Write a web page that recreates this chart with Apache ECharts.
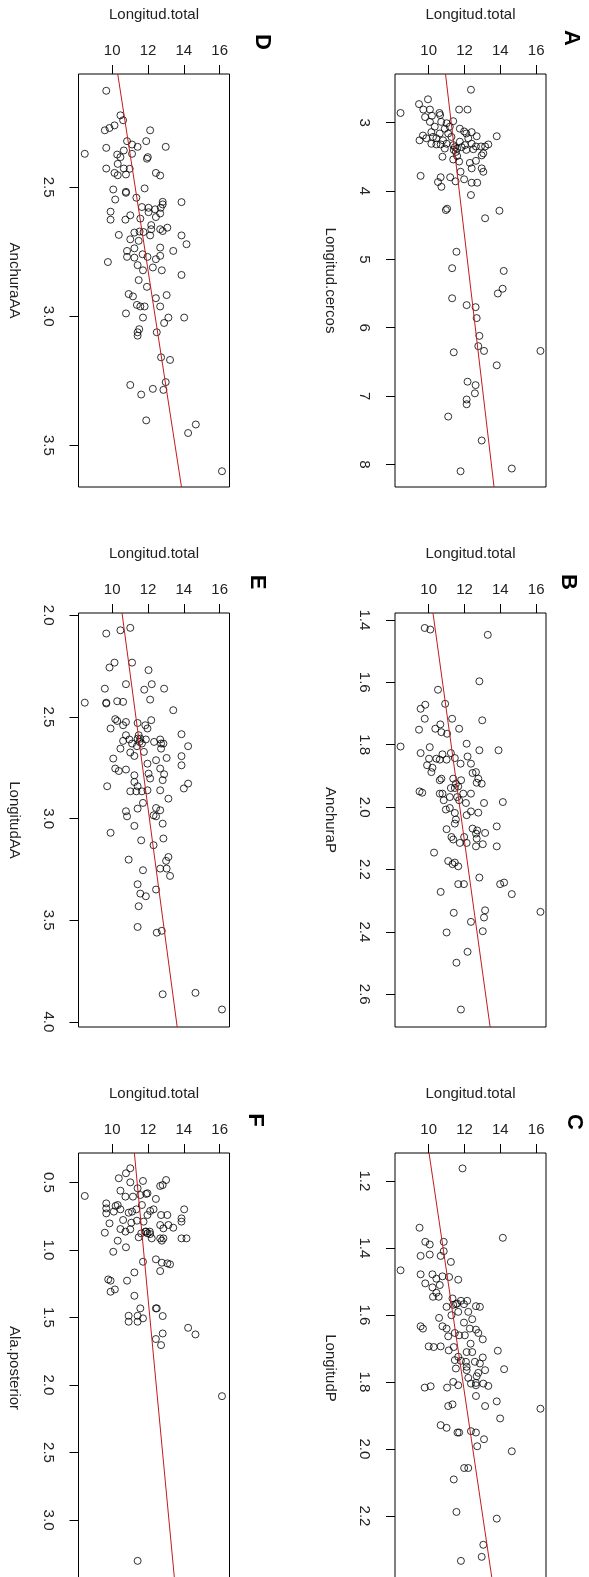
<!DOCTYPE html>
<html>
<head>
<meta charset="utf-8">
<script src="https://cdn.jsdelivr.net/npm/echarts@6/dist/echarts.min.js"></script>
<style>
  html, body { margin: 0; padding: 0; background: #fff; }
  #chart { width: 589px; height: 1577px; }
</style>
</head>
<body>
<div id="chart"></div>
<script>
// shared horizontal axis (Longitud.total)
const totalName = 'Longitud.total';
const totalTicks = [10, 12, 14, 16];
const totalRange = [8.12, 16.55];

// A: Longitud.cercos  -> [Longitud.total, Longitud.cercos]
const ptsA = [
  [12.36,2.52],[9.96,2.66],[9.46,2.73],[8.43,2.86],[9.7,2.81],[10.07,2.81],[11.7,2.81],[12.17,2.81],
  [9.8,2.92],[10.18,2.90],[10.6,2.86],[10.64,2.89],[11.37,2.98],[11.0,3.01],[10.07,2.99],[10.7,2.99],
  [11.18,3.06],[11.74,3.09],[11.98,3.13],[12.1,3.16],[12.4,3.14],[12.68,3.20],[13.8,3.20],[9.68,3.19],
  [9.49,3.26],[9.87,3.23],[10.15,3.14],[10.24,3.21],[10.43,3.23],[10.62,3.16],[10.8,3.26],[11.09,3.16],
  [11.27,3.21],[10.15,3.31],[10.67,3.32],[11.0,3.31],[11.46,3.36],[11.59,3.38],[11.4,3.40],[11.74,3.28],
  [12.02,3.33],[12.1,3.40],[12.64,3.35],[12.92,3.35],[13.15,3.35],[13.33,3.32],[13.05,3.45],[12.96,3.48],
  [10.77,3.50],[11.37,3.54],[11.7,3.57],[12.3,3.59],[12.64,3.56],[12.4,3.67],[12.96,3.67],[13.05,3.72],
  [11.78,3.72],[9.55,3.78],[10.67,3.80],[11.2,3.80],[11.5,3.86],[11.98,3.83],[10.52,3.87],[10.71,3.94],
  [12.4,3.88],[12.71,3.88],[12.36,4.06],[10.96,4.28],[11.03,4.26],[13.95,4.29],[13.15,4.40],[11.55,4.89],
  [11.31,5.13],[14.19,5.17],[14.13,5.43],[13.86,5.50],[11.31,5.57],[12.12,5.67],[12.62,5.70],[12.68,5.86],
  [12.83,6.12],[12.77,6.27],[13.09,6.34],[11.4,6.36],[16.24,6.34],[13.8,6.55],[12.17,6.79],[12.62,6.84],
  [12.58,6.96],[12.12,7.05],[12.12,7.12],[11.09,7.30],[12.96,7.65],[11.78,8.10],[14.64,8.06],
  [11.37,3.33],[11.52,3.43],[11.59,3.49],[10.43,3.32],[10.9,3.38],[11.84,3.36],[12.4,3.31],[12.49,3.39],
  [12.21,3.23],[10.9,3.09],[10.34,3.06]
];
const lineA = [[10.94, 2.29], [13.65, 8.33]];
const rangeA = [2.29, 8.33];
const ticksA = [3, 4, 5, 6, 7, 8];

// B: AnchuraP
const ptsB = [
  [9.78,1.426],[10.09,1.431],[13.3,1.448],[12.83,1.597],[10.52,1.624],[10.92,1.669],[9.81,1.672],[9.55,1.685],
  [9.78,1.717],[11.31,1.717],[12.99,1.722],[10.65,1.735],[10.37,1.749],[11.7,1.749],[9.46,1.752],[10.71,1.76],
  [11.03,1.765],[8.43,1.806],[12.12,1.797],[9.55,1.827],[10.06,1.808],[12.83,1.818],[13.9,1.818],[11.24,1.827],
  [10.77,1.831],[10.02,1.845],[10.43,1.845],[10.62,1.848],[11.0,1.848],[11.46,1.843],[12.17,1.838],[11.78,1.861],
  [12.36,1.861],[9.91,1.866],[10.21,1.874],[10.15,1.888],[12.45,1.891],[12.64,1.888],[12.77,1.909],[10.71,1.909],
  [10.62,1.914],[11.37,1.909],[11.81,1.914],[12.68,1.922],[12.96,1.925],[11.65,1.934],[11.24,1.939],[11.46,1.939],
  [9.49,1.95],[9.64,1.954],[10.62,1.957],[10.77,1.957],[11.59,1.968],[11.93,1.957],[12.36,1.957],[11.18,1.968],
  [10.84,1.978],[11.7,1.978],[12.08,1.987],[13.09,1.987],[14.14,1.984],[10.96,2.008],[11.18,2.003],[11.46,2.019],
  [12.12,2.026],[12.36,2.014],[12.77,2.018],[11.52,2.04],[11.46,2.053],[13.8,2.062],[11.0,2.071],[12.45,2.069],
  [12.71,2.075],[12.64,2.085],[13.15,2.083],[11.27,2.096],[11.37,2.104],[11.98,2.096],[12.68,2.101],[11.74,2.115],
  [12.12,2.115],[13.02,2.119],[12.64,2.126],[13.8,2.126],[10.3,2.146],[11.09,2.173],[11.46,2.178],[11.33,2.183],
  [11.65,2.19],[12.83,2.226],[11.65,2.247],[11.97,2.247],[10.67,2.272],[13.99,2.247],[14.21,2.242],[14.64,2.279],
  [13.15,2.331],[13.09,2.354],[11.4,2.339],[12.36,2.368],[16.24,2.336],[11.0,2.402],[13.02,2.398],[12.17,2.464],
  [11.55,2.499],[11.8,2.649],[11.52,1.925]
];
const lineB = [[10.24, 1.378], [13.43, 2.705]];
const rangeB = [1.378, 2.705];
const ticksB = [1.4, 1.6, 1.8, 2.0, 2.2, 2.4, 2.6];

// C: LongitudP
const ptsC = [
  [11.89,1.163],[9.49,1.34],[14.14,1.37],[9.81,1.382],[10.06,1.39],[10.84,1.382],[10.84,1.41],[9.55,1.424],
  [10.06,1.42],[10.67,1.424],[11.24,1.442],[8.43,1.467],[9.55,1.479],[10.21,1.479],[10.43,1.492],[10.77,1.485],
  [11.14,1.487],[11.65,1.495],[9.81,1.506],[10.21,1.518],[10.62,1.511],[10.43,1.534],[10.24,1.546],[10.56,1.546],
  [11.33,1.551],[11.8,1.558],[12.15,1.558],[11.52,1.568],[11.0,1.576],[11.97,1.568],[12.64,1.574],[12.86,1.576],
  [11.65,1.591],[11.27,1.601],[12.21,1.591],[10.58,1.609],[11.97,1.623],[12.43,1.613],[9.55,1.634],[9.68,1.641],
  [10.77,1.634],[11.0,1.641],[11.09,1.664],[11.46,1.654],[11.7,1.661],[12.02,1.661],[12.3,1.641],[12.64,1.644],
  [12.77,1.654],[13.02,1.673],[10.0,1.694],[10.28,1.696],[10.67,1.694],[11.12,1.706],[11.4,1.696],[12.34,1.686],
  [12.12,1.711],[12.43,1.711],[13.86,1.707],[11.65,1.725],[11.46,1.735],[11.8,1.737],[12.08,1.74],[12.58,1.74],
  [13.02,1.727],[12.86,1.745],[11.52,1.76],[12.12,1.755],[12.12,1.765],[13.15,1.765],[14.21,1.762],[12.77,1.773],
  [12.68,1.783],[12.21,1.788],[11.37,1.8],[11.65,1.81],[12.36,1.805],[12.64,1.803],[13.05,1.805],[13.33,1.812],
  [12.64,1.81],[9.78,1.817],[10.11,1.813],[11.03,1.817],[12.64,1.842],[13.15,1.872],[13.8,1.858],[11.09,1.872],
  [11.33,1.867],[16.24,1.88],[13.99,1.909],[10.67,1.929],[11.0,1.937],[11.61,1.951],[11.7,1.951],[12.36,1.947],
  [12.64,1.951],[13.09,1.971],[12.71,1.992],[14.64,2.007],[11.98,2.057],[12.21,2.057],[11.4,2.091],[11.55,2.188],
  [13.8,2.208],[13.05,2.286],[12.96,2.322],[11.8,2.334],[11.37,1.57],[11.59,1.566]
];
const lineC = [[10.02, 1.117], [13.57, 2.40]];
const rangeC = [1.117, 2.40];
const ticksC = [1.2, 1.4, 1.6, 1.8, 2.0, 2.2];

// D: AnchuraAA
const ptsD = [
  [9.67,2.127],[10.46,2.222],[10.61,2.241],[10.13,2.261],[9.85,2.271],[9.59,2.28],[12.12,2.28],[10.83,2.322],
  [11.11,2.335],[11.42,2.344],[11.9,2.322],[12.99,2.344],[9.67,2.348],[11.11,2.371],[10.65,2.358],[10.28,2.374],
  [8.47,2.371],[10.46,2.384],[11.99,2.384],[11.94,2.39],[10.31,2.41],[9.67,2.428],[10.13,2.445],[10.65,2.428],
  [10.98,2.429],[10.31,2.454],[10.77,2.451],[12.44,2.445],[12.68,2.455],[11.81,2.505],[10.06,2.509],[10.77,2.518],
  [10.77,2.522],[10.17,2.548],[11.35,2.541],[12.82,2.557],[12.82,2.567],[13.87,2.558],[11.66,2.577],[12.03,2.58],
  [12.4,2.586],[12.71,2.58],[9.91,2.595],[12.03,2.597],[12.68,2.602],[11.01,2.609],[9.91,2.626],[10.74,2.626],
  [11.57,2.622],[12.44,2.616],[12.18,2.647],[12.18,2.663],[12.68,2.663],[13.08,2.657],[12.82,2.67],[10.37,2.685],
  [11.24,2.676],[11.53,2.672],[11.75,2.674],[12.12,2.687],[11.01,2.702],[11.48,2.708],[13.87,2.687],[14.15,2.721],
  [12.68,2.734],[11.24,2.737],[10.83,2.747],[13.41,2.747],[11.7,2.76],[11.97,2.77],[10.83,2.77],[11.24,2.773],
  [12.68,2.766],[12.44,2.779],[9.76,2.79],[11.42,2.802],[12.27,2.811],[11.72,2.822],[12.77,2.822],[13.87,2.84],
  [11.48,2.86],[11.94,2.886],[10.92,2.914],[11.16,2.923],[13.04,2.918],[12.44,2.93],[11.38,2.956],[11.57,2.962],
  [11.81,2.962],[12.68,2.962],[10.77,2.989],[11.72,3.005],[13.14,3.005],[14.02,3.005],[12.9,3.026],[11.51,3.05],
  [11.42,3.062],[11.42,3.075],[12.49,3.062],[12.73,3.159],[13.23,3.169],[12.99,3.255],[12.86,3.285],[11.01,3.266],
  [12.27,3.281],[11.62,3.303],[11.9,3.403],[14.67,3.419],[14.24,3.452],[16.13,3.6]
];
const lineD = [[10.31, 2.062], [13.87, 3.661]];
const rangeD = [2.062, 3.661];
const ticksD = [2.5, 3.0, 3.5];

// E: LongitudAA
const ptsE = [
  [9.67,2.09],[10.46,2.074],[11.01,2.062],[9.85,2.257],[10.13,2.233],[11.11,2.233],[12.03,2.27],[10.77,2.339],
  [9.59,2.361],[11.79,2.366],[12.21,2.339],[12.9,2.361],[12.12,2.415],[8.47,2.43],[9.67,2.43],[9.67,2.434],
  [10.28,2.423],[10.61,2.426],[13.41,2.467],[10.17,2.511],[10.28,2.52],[9.91,2.557],[10.61,2.541],[10.77,2.525],
  [11.42,2.53],[11.85,2.541],[11.97,2.557],[12.18,2.516],[10.77,2.59],[10.61,2.618],[10.96,2.611],[11.11,2.631],
  [11.42,2.607],[11.53,2.623],[11.38,2.644],[11.66,2.631],[11.88,2.611],[11.77,2.672],[12.34,2.623],[12.68,2.611],
  [12.73,2.631],[12.86,2.631],[12.73,2.656],[13.87,2.585],[14.24,2.644],[10.46,2.656],[11.01,2.675],[11.24,2.692],
  [10.06,2.705],[13.87,2.693],[13.87,2.738],[13.04,2.702],[12.45,2.713],[11.97,2.73],[12.68,2.754],[10.17,2.754],
  [10.37,2.766],[10.77,2.759],[11.24,2.787],[12.03,2.779],[12.12,2.803],[12.9,2.782],[12.82,2.811],[11.24,2.82],
  [11.42,2.841],[9.72,2.841],[11.01,2.866],[11.35,2.866],[11.66,2.866],[11.97,2.861],[12.68,2.861],[14.24,2.828],
  [14.0,2.852],[13.14,2.902],[11.72,2.923],[11.42,2.951],[12.45,2.948],[12.68,2.959],[10.77,2.964],[10.83,2.989],
  [12.31,2.984],[12.45,2.989],[12.82,3.025],[9.91,3.07],[11.24,3.036],[11.62,3.107],[12.31,3.131],[12.86,3.098],
  [10.92,3.202],[13.14,3.189],[13.01,3.208],[12.68,3.246],[13.04,3.246],[13.23,3.282],[11.72,3.254],[12.45,3.349],
  [11.42,3.323],[11.57,3.369],[11.88,3.382],[11.48,3.431],[11.42,3.533],[12.49,3.561],[12.77,3.552],[12.82,3.864],
  [14.65,3.857],[16.13,3.939],[11.48,2.59],[11.57,2.607]
];
const lineE = [[10.55, 1.989], [13.63, 4.025]];
const rangeE = [1.989, 4.025];
const ticksE = [2.0, 2.5, 3.0, 3.5, 4.0];

// F: Ala.posterior
const ptsF = [
  [11.01,0.396],[10.77,0.433],[10.37,0.47],[11.01,0.5],[11.72,0.49],[13.01,0.483],[12.82,0.52],[12.68,0.527],
  [8.47,0.601],[10.46,0.562],[11.42,0.544],[10.74,0.606],[11.16,0.606],[11.57,0.594],[11.9,0.586],[11.97,0.581],
  [12.44,0.623],[9.67,0.656],[9.67,0.693],[9.67,0.73],[10.19,0.675],[10.31,0.668],[10.09,0.717],[10.46,0.7],
  [10.92,0.725],[11.11,0.717],[11.35,0.7],[11.66,0.668],[12.12,0.712],[12.31,0.7],[11.97,0.742],[12.73,0.742],
  [13.08,0.742],[14.02,0.7],[13.87,0.767],[13.87,0.791],[9.85,0.804],[10.61,0.779],[11.07,0.799],[11.38,0.784],
  [11.75,0.791],[12.68,0.816],[12.86,0.841],[13.14,0.816],[13.41,0.836],[9.59,0.873],[10.46,0.846],[10.74,0.865],
  [11.01,0.848],[11.62,0.878],[11.9,0.865],[11.97,0.878],[12.12,0.883],[11.48,0.907],[12.21,0.915],[12.68,0.915],
  [12.86,0.915],[13.87,0.915],[14.15,0.915],[10.31,0.932],[10.77,0.981],[10.06,1.014],[12.77,0.932],[11.72,1.088],
  [12.44,1.07],[12.77,1.095],[13.08,1.1],[13.23,1.107],[12.68,1.157],[11.24,1.167],[9.78,1.219],[9.91,1.228],
  [10.83,1.228],[9.91,1.31],[10.15,1.293],[11.24,1.34],[11.57,1.433],[12.44,1.433],[12.49,1.433],[10.92,1.488],
  [10.92,1.532],[11.42,1.488],[11.42,1.532],[11.72,1.507],[12.82,1.49],[14.24,1.577],[14.65,1.626],[12.82,1.619],
  [12.44,1.66],[12.73,1.705],[16.13,2.083],[11.42,3.302],[11.85,0.865],[12.1,0.865]
];
const lineF = [[11.24, 0.283], [13.50, 3.466]];
const rangeF = [0.283, 3.466];
const ticksF = [0.5, 1.0, 1.5, 2.0, 2.5, 3.0];

// panel layout (pixels)
const panels = [
  { title: 'A', name: 'Longitud.cercos', pts: ptsA, line: lineA, range: rangeA, ticks: ticksA, dec: 0, left: 395, top: 74, height: 413, tx: 571, ty: 38 },
  { title: 'B', name: 'AnchuraP', pts: ptsB, line: lineB, range: rangeB, ticks: ticksB, dec: 1, left: 395, top: 613, height: 414, tx: 568, ty: 582 },
  { title: 'C', name: 'LongitudP', pts: ptsC, line: lineC, range: rangeC, ticks: ticksC, dec: 1, left: 395, top: 1153, height: 430, tx: 574, ty: 1122 },
  { title: 'D', name: 'AnchuraAA', pts: ptsD, line: lineD, range: rangeD, ticks: ticksD, dec: 1, left: 78.5, top: 74, height: 413, tx: 262, ty: 42 },
  { title: 'E', name: 'LongitudAA', pts: ptsE, line: lineE, range: rangeE, ticks: ticksE, dec: 1, left: 78.5, top: 613, height: 414, tx: 257, ty: 582 },
  { title: 'F', name: 'Ala.posterior', pts: ptsF, line: lineF, range: rangeF, ticks: ticksF, dec: 1, left: 78.5, top: 1153, height: 430, tx: 255, ty: 1120 }
];

const FONT = 'Liberation Sans, Arial, sans-serif';
const TXT = '#222';

const chart = echarts.init(document.getElementById('chart'), null, { renderer: 'canvas' });

const grid = [], xAxis = [], yAxis = [], series = [], graphic = [];
panels.forEach((p, i) => {
  grid.push({
    left: p.left, top: p.top, width: 151, height: p.height,
    show: true, borderColor: '#000', borderWidth: 1, backgroundColor: 'transparent',
    containLabel: false, outerBoundsMode: 'none'
  });
  xAxis.push({
    type: 'value', gridIndex: i, position: 'top',
    min: totalRange[0], max: totalRange[1],
    name: totalName, nameLocation: 'middle', nameGap: 52,
    nameTextStyle: { fontFamily: FONT, fontSize: 15, color: TXT },
    axisLine: { show: false },
    axisTick: { show: true, length: 9, customValues: totalTicks, lineStyle: { color: '#000' } },
    axisLabel: { customValues: totalTicks, margin: 16, fontFamily: FONT, fontSize: 15, color: TXT },
    splitLine: { show: false }
  });
  yAxis.push({
    type: 'value', gridIndex: i, inverse: true,
    min: p.range[0], max: p.range[1],
    name: p.name, nameLocation: 'middle', nameRotate: -90, nameGap: 57,
    nameTextStyle: { fontFamily: FONT, fontSize: 15, color: TXT },
    axisLine: { show: false },
    axisTick: { show: true, length: 9, customValues: p.ticks, lineStyle: { color: '#000' } },
    axisLabel: {
      customValues: p.ticks, rotate: -90, margin: 23,
      fontFamily: FONT, fontSize: 15, color: TXT,
      formatter: v => Number(v).toFixed(p.dec)
    },
    splitLine: { show: false }
  });
  series.push({
    type: 'scatter', xAxisIndex: i, yAxisIndex: i,
    data: p.pts, symbol: 'circle', symbolSize: 7,
    itemStyle: { color: 'rgba(0,0,0,0)', borderColor: '#000', borderWidth: 1 },
    silent: true, z: 2
  });
  series.push({
    type: 'line', xAxisIndex: i, yAxisIndex: i,
    data: p.line, symbol: 'none', clip: true,
    lineStyle: { color: '#c41a1a', width: 1 },
    silent: true, z: 3
  });
  graphic.push({
    type: 'text', x: p.tx, y: p.ty, rotation: -Math.PI / 2,
    style: { text: p.title, font: 'bold 22px ' + FONT, fill: '#000', align: 'center', verticalAlign: 'middle' }
  });
});

chart.setOption({
  backgroundColor: '#fff',
  animation: false,
  grid, xAxis, yAxis, series, graphic
});
</script>
</body>
</html>
